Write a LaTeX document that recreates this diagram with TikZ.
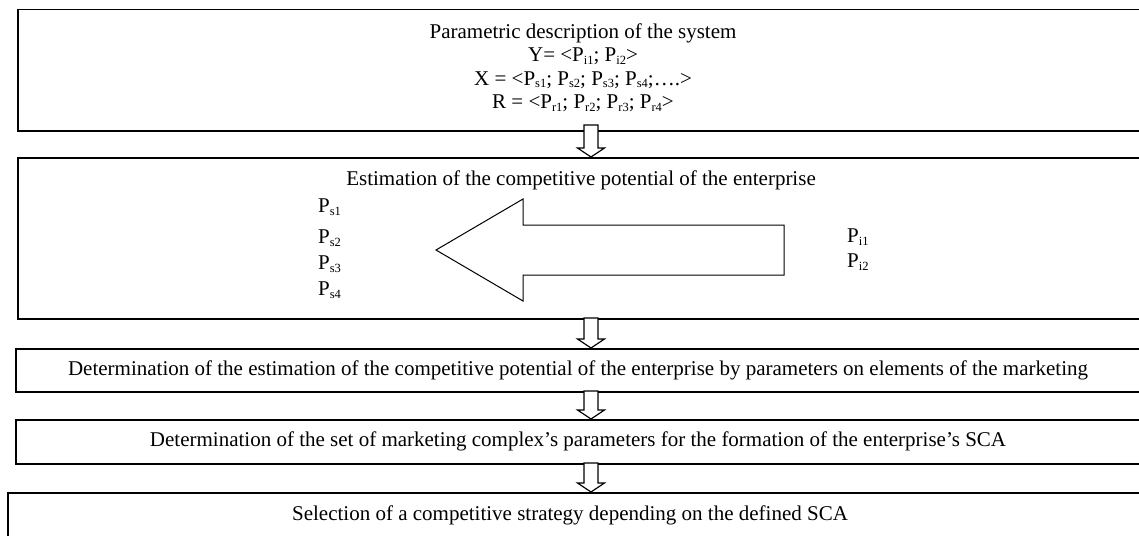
\documentclass[tikz,border=0pt]{standalone}
\usepackage{fontspec}
\setmainfont{Liberation Serif}
\usetikzlibrary{calc}

% subscript used for the parameter names
\newcommand\psub[1]{\raisebox{-0.3ex}{\fontsize{12.5}{12.5}\selectfont #1}}
\newcommand\Pp[1]{P\psub{#1}}

% hollow down arrow between two named points
\newcommand\flowarrow[2]{%
  \draw[hollow] let \p1=(#1), \p2=(#2) in
    (\x1-7pt,\y1) -- (\x1+7pt,\y1) -- (\x1+7pt,\y2+9pt) -- (\x1+13.5pt,\y2+9pt)
    -- (\x1,\y2) -- (\x1-13.5pt,\y2+9pt) -- (\x1-7pt,\y2+9pt) -- cycle;}

\begin{document}
\begin{tikzpicture}[x=1pt,y=-1pt,
  stagebox/.style={draw=black, line width=1.5pt, inner sep=0pt, anchor=north west, fill=white},
  hollow/.style={draw=black, line width=1.2pt, fill=white, line join=miter},
  bigarrow/.style={draw=black, line width=1pt, fill=white},
  label/.style={inner sep=0pt, font=\fontsize{21}{23.5}\selectfont},
]
\clip (0,0) rectangle (1139,535);
\fill[white] (0,0) rectangle (1139,535);

% stage boxes (they run past the right edge)
\node[stagebox, minimum width=1140, minimum height=121] (b1) at (17,9) {};
\node[stagebox, minimum width=1140, minimum height=161] (b2) at (17,157) {};
\node[stagebox, minimum width=1140, minimum height=43] (b3) at (15,348) {};
\node[stagebox, minimum width=1140, minimum height=44] (b4) at (15,419) {};
\node[stagebox, minimum width=1150, minimum height=60] (b5) at (7,492) {};

% arrows between the stages
\coordinate (s1) at (591,125);
\coordinate (s2) at (591,318);
\coordinate (s3) at (591,391);
\coordinate (s4) at (591,463);
\flowarrow{s1}{s1 |- b2.north}
\flowarrow{s2}{s2 |- b3.north}
\flowarrow{s3}{s3 |- b4.north}
\flowarrow{s4}{s4 |- b5.north}

% texts of the stages
\node[label, align=center] (t1) at (583,67.5) {Parametric description of the system\\
  Y= <\Pp{i1}; \Pp{i2}>\\
  X = <\Pp{s1}; \Pp{s2}; \Pp{s3}; \Pp{s4};….>\\
  R = <\Pp{r1}; \Pp{r2}; \Pp{r3}; \Pp{r4}>};
\node[label] (t2) at (581,180) {Estimation of the competitive potential of the enterprise};
\node[label] (t3) at (578,370) {Determination of the estimation of the competitive potential of the enterprise by parameters on elements of the marketing};
\node[label] (t4) at (578,441) {Determination of the set of marketing complex’s parameters for the formation of the enterprise’s SCA};
\node[label] (t5) at (570,515) {Selection of a competitive strategy depending on the defined SCA};

% parameters on both sides of the big arrow
\node[label, anchor=west] (ps1) at (318,207) {\Pp{s1}};
\node[label, anchor=west] (ps2) at (318,238) {\Pp{s2}};
\node[label, anchor=west] (ps3) at (318,264) {\Pp{s3}};
\node[label, anchor=west] (ps4) at (318,290) {\Pp{s4}};
\node[label, anchor=west] (pi1) at (847,237) {\Pp{i1}};
\node[label, anchor=west] (pi2) at (847,262) {\Pp{i2}};

% big hollow arrow pointing left
\draw[bigarrow] (436,250) -- (523,199) -- (523,225) -- (784,225) -- (784,275)
  -- (523,275) -- (523,301) -- cycle;
\end{tikzpicture}
\end{document}
